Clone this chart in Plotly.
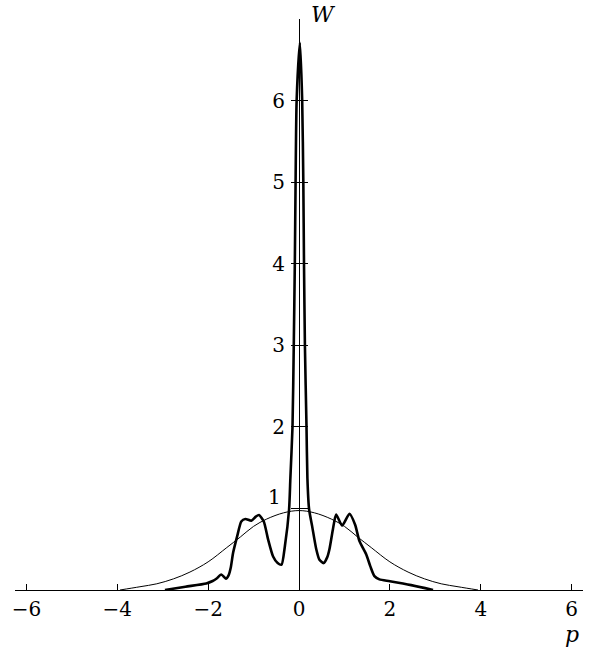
import plotly.graph_objects as go

# Wigner-type momentum distribution W(p): sharp central peak with side lobes
p_thick = [-2.95, -2.5, -2.04, -1.9, -1.82, -1.71, -1.61, -1.55, -1.5, -1.45,
           -1.36, -1.27, -1.18, -1.05, -0.95, -0.88, -0.775, -0.68, -0.57,
           -0.47, -0.385, -0.31, -0.218, -0.19, -0.143, -0.115, -0.092,
           -0.075, -0.052, 0.02, 0.07, 0.095, 0.11, 0.13, 0.165, 0.185,
           0.222, 0.29, 0.38, 0.45, 0.54, 0.62, 0.67, 0.745, 0.817, 0.95,
           1.11, 1.235, 1.33, 1.48, 1.57, 1.66, 1.77, 2.0, 2.47, 2.95]
w_thick = [0.0, 0.04, 0.08, 0.11, 0.137, 0.19, 0.14, 0.18, 0.28, 0.456,
           0.66, 0.84, 0.87, 0.85, 0.90, 0.92, 0.84, 0.62, 0.41,
           0.33, 0.31, 0.54, 0.99, 1.37, 2.0, 3.0, 4.0,
           5.0, 6.0, 6.71, 6.0, 5.0, 4.0, 3.0, 2.0, 1.37,
           0.99, 0.78, 0.5, 0.37, 0.33, 0.4, 0.5, 0.74, 0.925, 0.79,
           0.934, 0.80, 0.60, 0.435, 0.29, 0.17, 0.13, 0.108, 0.06, 0.0]

# Broad reference distribution
p_thin = [-3.94, -3.5, -3.13, -2.76, -2.4, -2.0, -1.59, -1.29, -1.0, -0.71,
          -0.34, 0.0, 0.34, 0.71, 1.0, 1.29, 1.59, 2.0, 2.4, 2.76, 3.13,
          3.5, 3.94]
w_thin = [0.0, 0.04, 0.076, 0.137, 0.22, 0.345, 0.52, 0.65, 0.78, 0.87,
          0.946, 0.974, 0.946, 0.87, 0.78, 0.65, 0.52, 0.345, 0.22, 0.137,
          0.076, 0.04, 0.0]

x_ticks = [-6, -4, -2, 0, 2, 4, 6]
y_ticks = [1, 2, 3, 4, 5, 6]
y_ticktext = ["", "2", "3", "4", "5", "6"]  # "1" is placed separately, above the curve

X_RANGE = [-6.25, 6.25]
Y_RANGE = [0, 7.0]
FONT = "DejaVu Serif"

fig = go.Figure()
fig.add_trace(go.Scatter(x=p_thin, y=w_thin, mode="lines",
                         line=dict(color="black", width=1, shape="spline",
                                   smoothing=1.0),
                         hoverinfo="skip"))
fig.add_trace(go.Scatter(x=p_thick, y=w_thick, mode="lines",
                         line=dict(color="black", width=2.6, shape="spline",
                                   smoothing=0.6),
                         hoverinfo="skip"))
# companion axis so the vertical ticks cross the axis line
fig.add_trace(go.Scatter(x=[0], y=[0], yaxis="y2", mode="lines",
                         line=dict(width=0), hoverinfo="skip",
                         showlegend=False))

fig.update_layout(
    width=589, height=651,
    margin=dict(l=15, r=6, t=19, b=61),
    paper_bgcolor="white", plot_bgcolor="white",
    showlegend=False,
    font=dict(family=FONT, size=20, color="black"),
    xaxis=dict(range=X_RANGE, tickvals=x_ticks, ticks="inside", ticklen=6,
               tickwidth=1, tickcolor="black", showline=True, linecolor="black",
               linewidth=1, showgrid=False, zeroline=False,
               ticklabelstandoff=1, tickfont=dict(family=FONT, size=20)),
    yaxis=dict(range=Y_RANGE, tickvals=y_ticks, ticktext=y_ticktext,
               ticks="outside", ticklen=8,
               tickwidth=1, tickcolor="black", showline=True, linecolor="black",
               linewidth=1, showgrid=False, zeroline=False,
               anchor="free", position=0.5, side="left",
               ticklabelstandoff=2, tickfont=dict(family=FONT, size=20)),
    yaxis2=dict(range=Y_RANGE, tickvals=y_ticks, ticks="outside", ticklen=8,
                tickwidth=1, tickcolor="black", showline=False,
                showgrid=False, zeroline=False, showticklabels=False,
                overlaying="y", anchor="free", position=0.5, side="right"),
    annotations=[
        dict(text=str(y_ticks[0]), x=0.0, y=y_ticks[0], xref="x", yref="y",
             xanchor="right", yanchor="middle", xshift=-16, yshift=11,
             showarrow=False, font=dict(family=FONT, size=20)),
        dict(text="<i>W</i>", x=0.0, y=7.0, xref="x", yref="y",
             xanchor="left", yanchor="middle", xshift=10, yshift=5,
             showarrow=False, font=dict(family=FONT, size=22)),
        dict(text="<i>p</i>", x=6.0, y=0, xref="x", yref="y",
             xanchor="center", yanchor="middle", yshift=-44,
             showarrow=False, font=dict(family=FONT, size=22)),
    ],
)

fig.write_html("out.html")
